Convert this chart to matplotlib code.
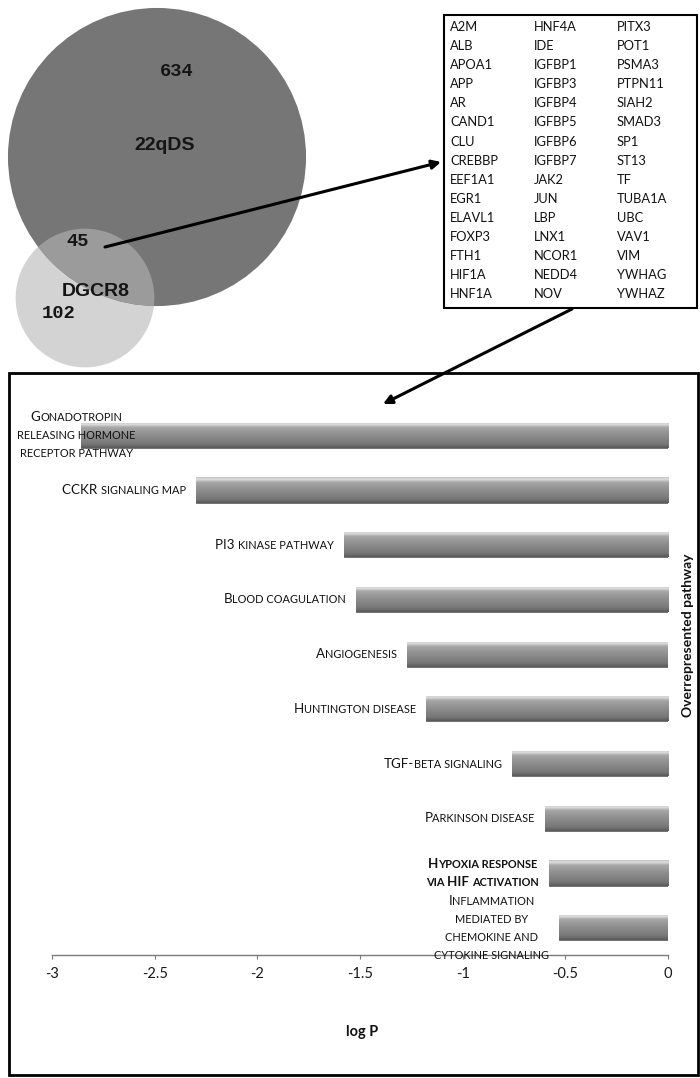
import matplotlib
matplotlib.use('Agg')
import matplotlib.pyplot as plt
import numpy as np
from matplotlib.patches import Circle, Rectangle, FancyArrowPatch
from matplotlib.transforms import IdentityTransform
from matplotlib.colors import LinearSegmentedColormap

plt.rcParams['axes.unicode_minus'] = False

# Venn counts
only_22q = 634
shared = 45
only_dgcr8 = 102

# shared genes (3 columns of 15)
genes = ['A2M', 'ALB', 'APOA1', 'APP', 'AR', 'CAND1', 'CLU', 'CREBBP', 'EEF1A1',
         'EGR1', 'ELAVL1', 'FOXP3', 'FTH1', 'HIF1A', 'HNF1A',
         'HNF4A', 'IDE', 'IGFBP1', 'IGFBP3', 'IGFBP4', 'IGFBP5', 'IGFBP6',
         'IGFBP7', 'JAK2', 'JUN', 'LBP', 'LNX1', 'NCOR1', 'NEDD4', 'NOV',
         'PITX3', 'POT1', 'PSMA3', 'PTPN11', 'SIAH2', 'SMAD3', 'SP1', 'ST13',
         'TF', 'TUBA1A', 'UBC', 'VAV1', 'VIM', 'YWHAG', 'YWHAZ']

# pathways (lower case letters drawn as small caps)
pathways = ['Gonadotropin\nreleasing hormone\nreceptor pathway',
            'CCKR signaling map',
            'PI3 kinase pathway',
            'Blood coagulation',
            'Angiogenesis',
            'Huntington disease',
            'TGF-beta signaling',
            'Parkinson disease',
            'Hypoxia response\nvia HIF activation',
            'Inflammation\nmediated by\nchemokine and\ncytokine signaling']
bold_rows = [8]
log_p = [-2.86, -2.30, -1.58, -1.52, -1.27, -1.18, -0.76, -0.60, -0.58, -0.53]
ticks = [-3, -2.5, -2, -1.5, -1, -0.5, 0]

W, H = 700, 1078
FONT = ['Lato', 'DejaVu Sans']
fig = plt.figure(figsize=(W / 100, H / 100), dpi=100)
fig.patch.set_facecolor('white')

# ---- overlay axes in pixel units (y downward) ----
ov = fig.add_axes([0, 0, 1, 1])
ov.set_xlim(0, W)
ov.set_ylim(H, 0)
ov.axis('off')
ov.patch.set_alpha(0)
ov.set_zorder(5)

# Venn: radius ~ sqrt(set size)
k = 5.72
r_big = k * np.sqrt(only_22q + shared)
r_small = k * np.sqrt(only_dgcr8 + shared)
big = Circle((157, 157), r_big, facecolor='#767676', edgecolor='none')
small = Circle((85, 298), r_small, facecolor='#d3d3d3', edgecolor='none')
ov.add_patch(small)
ov.add_patch(big)
both = Circle((85, 298), r_small, facecolor='#9b9b9b', edgecolor='none')
ov.add_patch(both)
both.set_clip_path(big)

mono = dict(family=['Liberation Mono', 'DejaVu Sans Mono'], fontweight='bold',
            fontsize=13.5, color='#151515', ha='center', va='center')
sans = dict(family=['Liberation Sans', 'DejaVu Sans'], fontweight='bold',
            fontsize=14, color='#151515', ha='center', va='center')
ov.text(177, 72, str(only_22q), **mono)
ov.text(165, 145, '22qDS', **sans)
ov.text(78, 242, str(shared), **mono)
ov.text(96, 292, 'DGCR8', **sans)
ov.text(59, 313, str(only_dgcr8), **mono)

# gene box
ov.add_patch(Rectangle((444, 15), 253, 293, facecolor='white', edgecolor='black', lw=1.5))
for i, g in enumerate(genes):
    col, row = divmod(i, 15)
    ov.text(450 + col * 83.5, 27 + row * 19.1, g, family=FONT, fontsize=9.3,
            color='#111111', ha='left', va='center')

# arrows
for p0, p1 in [((105, 247), (441, 162)), ((572, 309), (383, 404))]:
    ov.add_patch(FancyArrowPatch(p0, p1, arrowstyle='-|>', mutation_scale=13,
                                 lw=2.2, color='black', shrinkA=0, shrinkB=0))

# chart frame
ov.add_patch(Rectangle((9, 373), 689, 702, facecolor='none', edgecolor='black', lw=2))

# ---- bar chart ----
ax = fig.add_axes([52 / W, (H - 955) / H, (668 - 52) / W, (955 - 408) / H])
n = len(log_p)
y = np.arange(n)
bh = 0.46
bars = ax.barh(y, log_p, height=bh, color='#8a8a8a', edgecolor='#666666', lw=0.6, zorder=2)
cmap = LinearSegmentedColormap.from_list('gloss', [
    (0.0, '#c4c4c4'), (0.08, '#dedede'), (0.2, '#a6a6a6'), (0.5, '#8e8e8e'),
    (0.85, '#777777'), (1.0, '#5a5a5a')])
grad = np.linspace(0, 1, 64).reshape(-1, 1)
for b, v, yi in zip(bars, log_p, y):
    im = ax.imshow(grad, cmap=cmap, aspect='auto', origin='upper',
                   extent=(v, 0, yi + bh / 2, yi - bh / 2), zorder=3)
    im.set_clip_path(b)
ax.set_xlim(-3, 0)
ax.set_ylim(n - 0.5, -0.5)
ax.set_yticks([])
for s in ['left', 'top', 'right']:
    ax.spines[s].set_visible(False)
ax.spines['bottom'].set_color('#7a7a7a')
ax.spines['bottom'].set_linewidth(1)
ax.set_xticks(ticks)
ax.set_xticklabels(['%g' % t for t in ticks], family=FONT, fontsize=10.5, color='#1a1a1a')
ax.tick_params(axis='x', length=3, color='#7a7a7a', pad=6)
ax.patch.set_alpha(0)

fig.text(362 / W, 1 - 1032 / H, 'log P', family=FONT, fontweight='bold',
         fontsize=10.5, ha='center', va='center', color='#111111')
fig.text(688 / W, 1 - 635 / H, 'Overrepresented pathway', family=FONT,
         fontweight='bold', fontsize=10, rotation=90, ha='center', va='center',
         color='#111111')

# ---- small-caps pathway labels ----
renderer = fig.canvas.get_renderer()
BIG, SMALL = 9.6, 7.9


def runs(line):
    out = []
    for ch in line:
        if ch == ' ' and out:
            isbig = out[-1][1]
        else:
            isbig = not ch.islower()
        if out and out[-1][1] == isbig:
            out[-1][0] += ch
        else:
            out.append([ch, isbig])
    return [(t if b else t.upper(), b) for t, b in out]


def width(txt, size, weight):
    t1 = fig.text(0, 0, '|' + txt + '|', fontsize=size, fontweight=weight, family=FONT)
    t2 = fig.text(0, 0, '||', fontsize=size, fontweight=weight, family=FONT)
    w = t1.get_window_extent(renderer).width - t2.get_window_extent(renderer).width
    t1.remove()
    t2.remove()
    return w


for i, (lab, v) in enumerate(zip(pathways, log_p)):
    weight = 'bold' if i in bold_rows else 'normal'
    lines = [runs(l) for l in lab.split('\n')]
    widths = [sum(width(t, BIG if b else SMALL, weight) for t, b in ln) for ln in lines]
    bx, byc = ax.transData.transform((v, i))
    bw = max(widths)
    cx = bx - 10 - bw / 2
    if cx - bw / 2 < 17:
        cx = 17 + bw / 2
    nl = len(lines)
    for j, (ln, lw_) in enumerate(zip(lines, widths)):
        base = byc + ((nl - 1) / 2 - j) * 18 - 4
        x = cx - lw_ / 2
        for t, b in ln:
            size = BIG if b else SMALL
            fig.text(x, base, t, transform=IdentityTransform(), fontsize=size,
                     fontweight=weight, family=FONT, ha='left', va='baseline',
                     color='#111111', zorder=6)
            x += width(t, size, weight)

fig.savefig('out.png', dpi=100)
